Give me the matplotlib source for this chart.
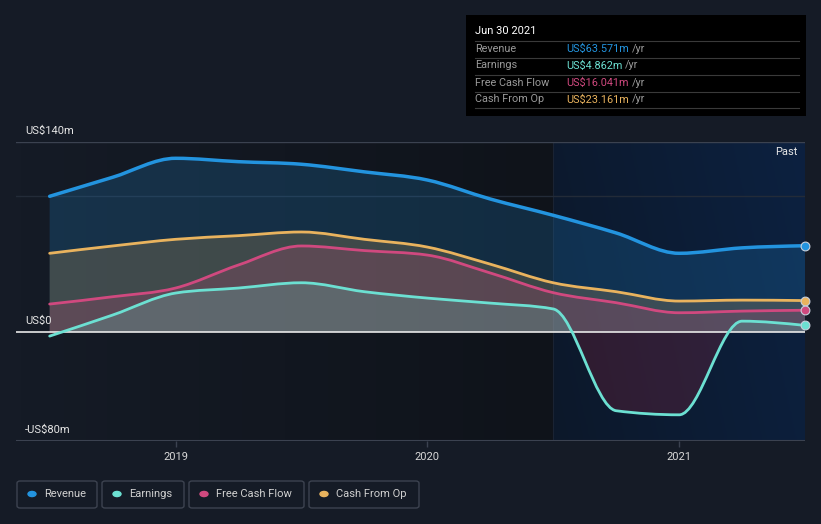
import numpy as np
import matplotlib
matplotlib.use("Agg")
import matplotlib.pyplot as plt
from matplotlib.path import Path
from matplotlib.patches import PathPatch, FancyBboxPatch, Rectangle
from matplotlib.colors import LinearSegmentedColormap

plt.rcParams['font.family'] = ['Roboto', 'DejaVu Sans']

# quarterly data, US$ millions
quarters = [2018.5, 2018.75, 2019.0, 2019.25, 2019.5, 2019.75, 2020.0,
            2020.25, 2020.5, 2020.75, 2021.0, 2021.25, 2021.5]
revenue = [100, 114, 128, 125.5, 123.6, 118, 112, 98, 86, 73, 58, 62, 63.571]
earnings = [-3, 12.5, 28.7, 32.4, 36.3, 29.7, 25, 21.3, 17, -58, -61, 8, 4.862]
free_cash_flow = [20.6, 26, 32.4, 49.4, 63.4, 60, 56.7, 43.5, 29, 21.6, 14.2, 15.4, 16.041]
cash_from_op = [58, 63.4, 68.3, 71, 73.7, 68.3, 62.6, 50, 36.3, 29.7, 22.8, 23.5, 23.161]

series_names = ["Revenue", "Earnings", "Free Cash Flow", "Cash From Op"]
series_values = [revenue, earnings, free_cash_flow, cash_from_op]
series_colors = ["#2394df", "#6ce0d2", "#d0497f", "#e9b35e"]
latest_labels = ["US$63.571m", "US$4.862m", "US$16.041m", "US$23.161m"]
loss_color = "#e0304a"

year_ticks = [2019, 2020, 2021]
past_start = 2020.5

bg = "#151b26"


def monotone_path(x, y):
    # d3 curveMonotoneX: cubic bezier through the data points
    x = np.asarray(x, float)
    y = np.asarray(y, float)
    n = len(x)
    h = np.diff(x)
    d = np.diff(y) / h
    m = np.zeros(n)
    for i in range(1, n - 1):
        p = (d[i - 1] * h[i] + d[i] * h[i - 1]) / (h[i - 1] + h[i])
        m[i] = (np.sign(d[i - 1]) + np.sign(d[i])) * min(abs(d[i - 1]), abs(d[i]), 0.5 * abs(p))
    m[0] = (3 * d[0] - m[1]) / 2
    m[-1] = (3 * d[-1] - m[-2]) / 2
    verts = [(x[0], y[0])]
    codes = [Path.MOVETO]
    for i in range(n - 1):
        dx = h[i] / 3
        verts += [(x[i] + dx, y[i] + m[i] * dx),
                  (x[i + 1] - dx, y[i + 1] - m[i + 1] * dx),
                  (x[i + 1], y[i + 1])]
        codes += [Path.CURVE4] * 3
    return verts, codes


fig = plt.figure(figsize=(8.21, 5.24), dpi=100, facecolor=bg)
x_left = 2019 - 160 / 252.5
ax = fig.add_axes([16 / 821, 1 - 440.6 / 524, (805 - 16) / 821, (440.6 - 142) / 524])
ax.set_facecolor(bg)
ax.set_xlim(x_left, 2021.5)
ax.set_ylim(-80, 140)
for s in ax.spines.values():
    s.set_visible(False)

# background gradients
dark = LinearSegmentedColormap.from_list("d", [bg, "#0f131a"])
ax.imshow(np.linspace(0, 1, 100).reshape(1, -1), cmap=dark, aspect="auto",
          extent=[x_left, past_start, -80, 140], zorder=0)
past = LinearSegmentedColormap.from_list("p", ["#0c182a", "#0d2140"])
grad = np.linspace(0, 1, 100).reshape(1, -1) * 0.8 + np.linspace(0.2, 0, 50).reshape(-1, 1)
ax.imshow(grad, cmap=past, aspect="auto", extent=[past_start, 2021.5, -80, 140],
          zorder=0, vmin=0, vmax=1)
ax.axvline(past_start, color="#1a2333", lw=0.8, zorder=0.5)

# grid / axis lines
ax.axhline(140, color="#3b4250", lw=1, zorder=1)
ax.axhline(100, color="#232b38", lw=1, zorder=1)
ax.axhline(-80, color="#3b4250", lw=1.5, zorder=1)

# fills then lines
order = [0, 3, 2, 1]
for i in order:
    verts, codes = monotone_path(quarters, series_values[i])
    fv = verts + [(quarters[-1], 0), (quarters[0], 0), (quarters[0], 0)]
    fc = codes + [Path.LINETO, Path.LINETO, Path.CLOSEPOLY]
    up = PathPatch(Path(fv, fc), facecolor=series_colors[i], alpha=0.2,
                   edgecolor="none", zorder=2)
    ax.add_patch(up)
    up.set_clip_path(Rectangle((x_left, 0), 5, 200, transform=ax.transData))
    down = PathPatch(Path(fv, fc), facecolor=loss_color if i == 1 else series_colors[i],
                     alpha=0.17 if i == 1 else 0.2, edgecolor="none", zorder=2)
    ax.add_patch(down)
    down.set_clip_path(Rectangle((x_left, -200), 5, 200, transform=ax.transData))
ax.axhline(0, color="#e8e8e8", lw=1.2, zorder=3)
for i in order:
    verts, codes = monotone_path(quarters, series_values[i])
    ax.add_patch(PathPatch(Path(verts, codes), facecolor="none",
                           edgecolor=series_colors[i], lw=2.5 if i == 0 else 2.0,
                           capstyle="round", joinstyle="round", zorder=4))
    ax.scatter([quarters[-1]], [series_values[i][-1]], s=40, color=series_colors[i],
               edgecolor="#c8d0dc", linewidth=0.8, zorder=5, clip_on=False)

# y labels
for val, lab in [(140, "US$140m"), (0, "US$0"), (-80, "-US$80m")]:
    ax.text(x_left + 9 / 252.5, val + 4.5, lab, color="#e6e6e6", fontsize=8,
            ha="left", va="bottom", zorder=6)

ax.set_yticks([])
ax.set_xticks(year_ticks)
ax.set_xticklabels([str(y) for y in year_ticks])
ax.tick_params(axis="x", colors="#3b4250", labelcolor="#d8d8d8", labelsize=8,
               length=4, width=1, pad=4)

ax.text(2021.5 - 8 / 252.5, 133, "Past", color="#e6e6e6", fontsize=8,
        ha="right", va="center", zorder=6)

# tooltip box
fig.patches.append(Rectangle((466 / 821, 1 - 116 / 524), 340 / 821, 101 / 524,
                             transform=fig.transFigure, facecolor="#000000",
                             edgecolor="none", zorder=10))
fig.text(475 / 821, 1 - 31 / 524, "Jun 30 2021", color="#ffffff", fontsize=8,
         va="center", ha="left", zorder=11)
for k in range(5):
    yl = 1 - (40.5 + k * 17) / 524
    fig.lines.append(plt.Line2D([475 / 821, 799 / 821], [yl, yl], transform=fig.transFigure,
                                color="#3a3a3a", lw=0.8, zorder=11))
for k, (name, lab, col) in enumerate(zip(series_names, latest_labels, series_colors)):
    yt = 1 - (48.5 + k * 17) / 524
    fig.text(475 / 821, yt, name, color="#9a9a9a", fontsize=7.8, va="center", zorder=11)
    t = fig.text(566 / 821, yt, lab, color=col, fontsize=7.8, va="center", zorder=11)
    fig.canvas.draw()
    bb = t.get_window_extent()
    fig.text(bb.x1 / 821 + 3 / 821, yt, "/yr", color="#9a9a9a", fontsize=7.8,
             va="center", zorder=11)

# legend boxes
boxes = [(17, 97), (102, 184), (189, 304), (309, 419)]
for (x0, x1), name, col in zip(boxes, series_names, series_colors):
    fig.patches.append(FancyBboxPatch((x0 / 821, 1 - 508 / 524), (x1 - x0) / 821, 27 / 524,
                                      boxstyle="round,pad=0,rounding_size=0.004",
                                      transform=fig.transFigure, facecolor="none",
                                      edgecolor="#3d4350", lw=1))
    fig.patches.append(plt.Circle(((x0 + 15) / 821, 1 - 494 / 524), 4 / 821,
                                  transform=fig.transFigure, color=col))
    fig.text((x0 + 27) / 821, 1 - 494 / 524, name, color="#d0d0d0", fontsize=8,
             va="center", ha="left")

fig.savefig("out.png", dpi=100, facecolor=bg)
